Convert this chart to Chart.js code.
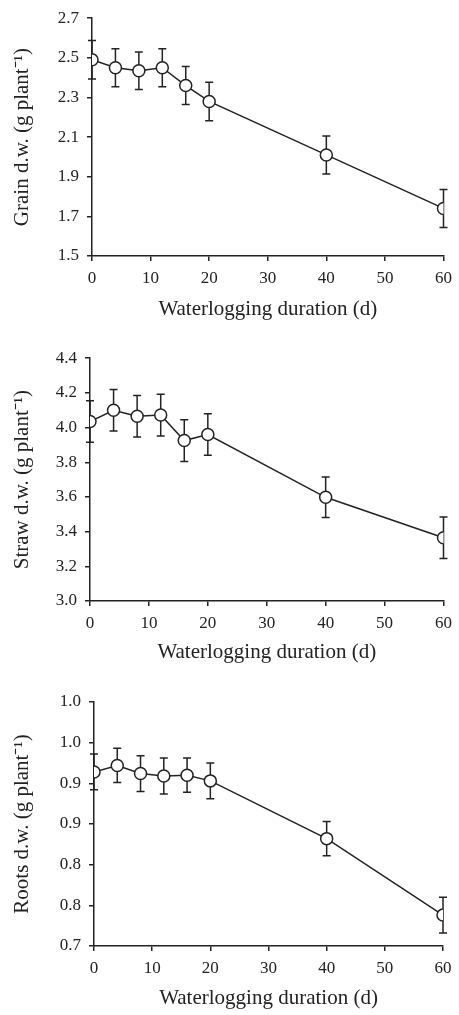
<!DOCTYPE html>
<html>
<head>
<meta charset="utf-8">
<script src="https://cdn.jsdelivr.net/npm/chart.js@4"></script>
<style>
  body { margin: 0; background: #fff; }
  canvas { display: block; }
</style>
</head>
<body>
<canvas id="grainChart" width="459" height="340"></canvas>
<canvas id="strawChart" width="459" height="340"></canvas>
<canvas id="rootsChart" width="459" height="335"></canvas>
<script>
const days = [0, 4, 8, 12, 16, 20, 40, 60];
const xTicks = [0, 10, 20, 30, 40, 50, 60];

const grain = [2.49, 2.45, 2.435, 2.45, 2.36, 2.28, 2.01, 1.74];
const grainErr = [0.097, 0.096, 0.095, 0.096, 0.096, 0.097, 0.096, 0.096];
const grainTicks = ['1.5', '1.7', '1.9', '2.1', '2.3', '2.5', '2.7'];

const straw = [4.035, 4.10, 4.065, 4.072, 3.925, 3.96, 3.598, 3.365];
const strawErr = [0.12, 0.12, 0.12, 0.12, 0.12, 0.12, 0.117, 0.12];
const strawTicks = ['3.0', '3.2', '3.4', '3.6', '3.8', '4.0', '4.2', '4.4'];

const roots = [0.914, 0.922, 0.912, 0.909, 0.910, 0.903, 0.832, 0.738];
const rootsErr = [0.022, 0.021, 0.022, 0.022, 0.021, 0.022, 0.021, 0.022];
const rootsTicks = ['0.7', '0.8', '0.8', '0.9', '0.9', '1.0', '1.0'];

const ink = '#222';
const serif = '"Liberation Serif", "Times New Roman", serif';

// vertical error bars with caps, drawn behind the markers
const errorBars = {
  id: 'errorBars',
  beforeDatasetsDraw(chart, args, opts) {
    const {ctx, scales: {x, y}} = chart;
    const ds = chart.data.datasets[0];
    ctx.save();
    ctx.strokeStyle = ink;
    ctx.lineWidth = 1.5;
    ds.data.forEach((v, i) => {
      const px = x.getPixelForValue(days[i]);
      const top = y.getPixelForValue(v + opts.err[i]);
      const bot = y.getPixelForValue(v - opts.err[i]);
      ctx.beginPath();
      ctx.moveTo(px, top); ctx.lineTo(px, bot);
      ctx.moveTo(px - 4, top); ctx.lineTo(px + 4, top);
      ctx.moveTo(px - 4, bot); ctx.lineTo(px + 4, bot);
      ctx.stroke();
    });
    ctx.restore();
  }
};

function makeChart(id, values, err, ticks, yMin, yMax, step, yTitle, box) {
  new Chart(document.getElementById(id), {
    type: 'line',
    data: {
      labels: days,
      datasets: [{
        data: values,
        borderColor: ink,
        borderWidth: 1.5,
        pointRadius: 6,
        pointBorderWidth: 1.5,
        pointBackgroundColor: '#fff',
        pointBorderColor: ink,
        tension: 0
      }]
    },
    options: {
      responsive: false,
      animation: false,
      layout: { padding: { left: 0, right: 459 - box.right, top: box.top, bottom: box.padBottom } },
      plugins: {
        legend: { display: false },
        tooltip: { enabled: false },
        errorBars: { err: err }
      },
      scales: {
        x: {
          type: 'linear',
          min: 0, max: 60,
          afterBuildTicks: (s) => { s.ticks = xTicks.map(v => ({ value: v })); },
          grid: { drawOnChartArea: false, drawTicks: true, tickLength: 5, tickColor: ink, lineWidth: 1.5 },
          border: { color: ink, width: 1.5 },
          ticks: { color: ink, font: { family: serif, size: 17 }, padding: 7, maxRotation: 0 },
          title: { display: true, text: 'Waterlogging duration (d)', color: ink, font: { family: serif, size: 21 }, padding: 0 },
          afterFit: (s) => { s.height = box.xHeight; }
        },
        y: {
          min: yMin, max: yMax,
          afterBuildTicks: (s) => {
            s.ticks = ticks.map((t, i) => ({ value: yMin + i * step }));
          },
          grid: { drawOnChartArea: false, drawTicks: true, tickLength: 5, tickColor: ink, lineWidth: 1.5 },
          border: { color: ink, width: 1.5 },
          ticks: {
            color: ink, font: { family: serif, size: 17 }, padding: 8,
            callback: (v, i) => ticks[i]
          },
          title: { display: true, text: yTitle, color: ink, font: { family: serif, size: 21 }, padding: { top: 10, bottom: 0 } },
          afterFit: (s) => { s.width = box.left; }
        }
      }
    },
    plugins: [errorBars]
  });
}

makeChart('grainChart', grain, grainErr, grainTicks, 1.5, 2.7, 0.2,
  'Grain d.w. (g plant\u207B\u00B9)', { left: 92, right: 447, top: 12, xHeight: 66, padBottom: 18 });
makeChart('strawChart', straw, strawErr, strawTicks, 3.0, 4.4, 0.2,
  'Straw d.w. (g plant\u207B\u00B9)', { left: 90, right: 446, top: 17, xHeight: 64, padBottom: 15 });
makeChart('rootsChart', roots, rootsErr, rootsTicks, 0.7, 1.0, 0.05,
  'Roots d.w. (g plant\u207B\u00B9)', { left: 94, right: 443, top: 22, xHeight: 65, padBottom: 4 });
</script>
</body>
</html>
